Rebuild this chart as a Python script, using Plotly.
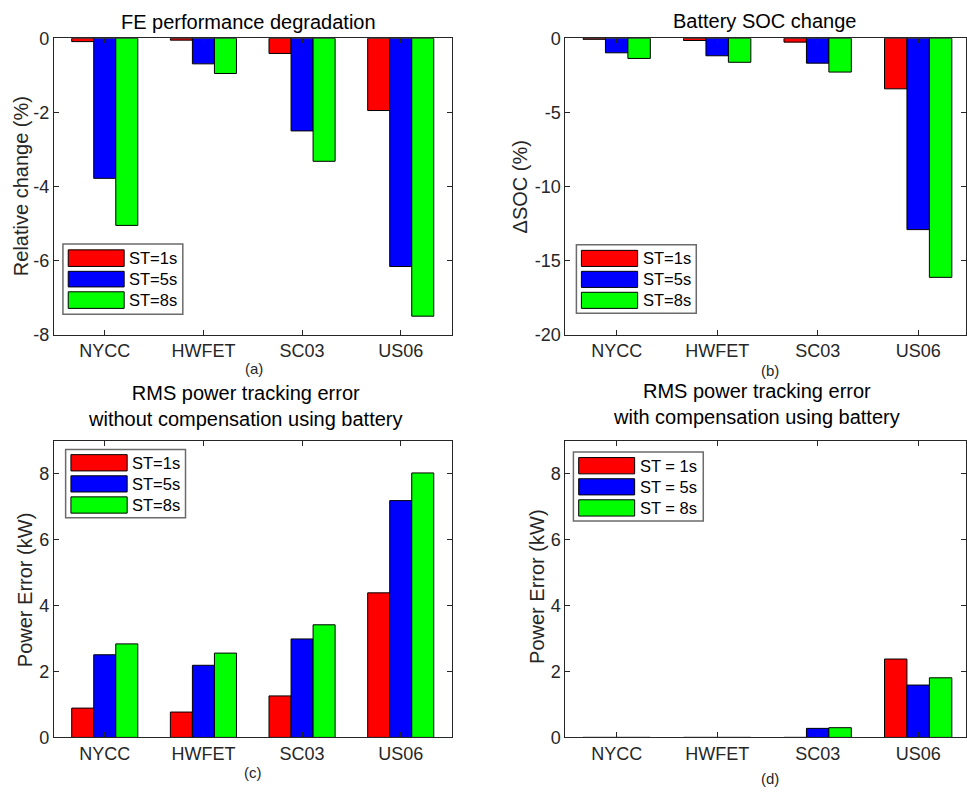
import plotly.graph_objects as go

# Drive cycles and sampling-time series
cycles = ["NYCC", "HWFET", "SC03", "US06"]
st_labels = ["ST=1s", "ST=5s", "ST=8s"]
st_labels_spaced = ["ST = 1s", "ST = 5s", "ST = 8s"]
colors = ["#FF0000", "#0000FF", "#00FF00"]

# (a) relative change of fuel economy (%)
fe_st1 = [-0.09, -0.05, -0.41, -1.95]
fe_st5 = [-3.78, -0.69, -2.50, -6.16]
fe_st8 = [-5.05, -0.95, -3.32, -7.50]

# (b) battery SOC change (%)
soc_st1 = [-0.07, -0.15, -0.26, -3.41]
soc_st5 = [-0.98, -1.18, -1.68, -12.91]
soc_st8 = [-1.36, -1.62, -2.28, -16.13]

# (c) RMS power tracking error without battery compensation (kW)
err_nocomp_st1 = [0.89, 0.77, 1.26, 4.39]
err_nocomp_st5 = [2.51, 2.19, 2.99, 7.19]
err_nocomp_st8 = [2.84, 2.56, 3.42, 8.03]

# (d) RMS power tracking error with battery compensation (kW)
err_comp_st1 = [0.0, 0.0, 0.0, 2.38]
err_comp_st5 = [0.0, 0.0, 0.275, 1.59]
err_comp_st8 = [0.0, 0.0, 0.295, 1.81]

# Y tick values per panel
ticks_fe = [0, -2, -4, -6, -8]
ticks_soc = [0, -5, -10, -15, -20]
ticks_err = [0, 2, 4, 6, 8]

W, H = 967, 803
FONT = "Liberation Sans, Arial, Helvetica, sans-serif"
AX = "#262626"


def px(x):
    return x / W


def py(y):
    return 1 - y / H


def tick_text(vals):
    # plain hyphen-minus for negative labels
    return [str(v) for v in vals]


fig = go.Figure()

panels = [
    ("x", "y", [fe_st1, fe_st5, fe_st8]),
    ("x2", "y2", [soc_st1, soc_st5, soc_st8]),
    ("x3", "y3", [err_nocomp_st1, err_nocomp_st5, err_nocomp_st8]),
    ("x4", "y4", [err_comp_st1, err_comp_st5, err_comp_st8]),
]
for xa, ya, series in panels:
    for vals, col in zip(series, colors):
        fig.add_trace(go.Bar(
            x=cycles, y=vals, xaxis=xa, yaxis=ya,
            marker=dict(color=col, line=dict(color="#000000", width=1)),
            showlegend=False,
        ))

left_dom = [px(54), px(452)]
right_dom = [px(566), 1.0]
top_dom = [py(333), py(29)]
bot_dom = [py(746), py(442)]

common_x = dict(
    type="category", showline=True, linecolor=AX, linewidth=1, mirror="ticks",
    ticks="inside", ticklen=5, tickcolor=AX, showgrid=False, zeroline=False,
    tickfont=dict(family=FONT, size=18, color=AX),
)
common_y = dict(
    showline=True, linecolor=AX, linewidth=1, mirror="ticks",
    ticks="inside", ticklen=5, tickcolor=AX, showgrid=False, zeroline=False,
    tickfont=dict(family=FONT, size=18, color=AX),
)

fig.update_layout(
    width=W, height=H,
    margin=dict(l=0, r=0, t=0, b=0),
    paper_bgcolor="white", plot_bgcolor="white",
    barmode="group", bargap=0.33, bargroupgap=0,
    showlegend=False,
    xaxis=dict(common_x, domain=left_dom, anchor="y", range=[-0.515, 3.515]),
    yaxis=dict(common_y, domain=top_dom, anchor="x", range=[-8, 0],
               tickvals=ticks_fe, ticktext=tick_text(ticks_fe)),
    xaxis2=dict(common_x, domain=right_dom, anchor="y2", range=[-0.51, 3.476]),
    yaxis2=dict(common_y, domain=top_dom, anchor="x2", range=[-20, 0],
                tickvals=ticks_soc, ticktext=tick_text(ticks_soc)),
    xaxis3=dict(common_x, domain=left_dom, anchor="y3", range=[-0.515, 3.515]),
    yaxis3=dict(common_y, domain=bot_dom, anchor="x3", range=[0, 9],
                tickvals=ticks_err, ticktext=tick_text(ticks_err)),
    xaxis4=dict(common_x, domain=right_dom, anchor="y4", range=[-0.51, 3.476]),
    yaxis4=dict(common_y, domain=bot_dom, anchor="x4", range=[0, 9],
                tickvals=ticks_err, ticktext=tick_text(ticks_err)),
)

annotations = []


def text(x, y, s, size, color="#000000", angle=0, xanchor="center"):
    annotations.append(dict(
        x=px(x), y=py(y), xref="paper", yref="paper", text=s, showarrow=False,
        xanchor=xanchor, yanchor="middle", textangle=angle,
        font=dict(family=FONT, size=size, color=color),
    ))


# Titles
text(248.5, 12, "FE performance degradation", 20)
text(765, 11.5, "Battery SOC change", 20)
text(246, 406.5, "RMS power tracking error<br>without compensation using battery", 20)
text(757, 404.5, "RMS power tracking error<br>with compensation using battery", 20)

# Y-axis labels
text(21.7, 181, "Relative change (%)", 20, AX, -90)
text(521, 181.5, "ΔSOC (%)", 20, AX, -90)
text(25, 595, "Power Error (kW)", 20, AX, -90)
text(537.5, 591.7, "Power Error (kW)", 20, AX, -90)

# Panel captions
text(254, 367.5, "(a)", 15, AX)
text(770.5, 370, "(b)", 15, AX)
text(253.3, 781.7, "(c)", 15, AX)
text(770.5, 788, "(d)", 15, AX)

shapes = []


def legend(box, sw_x, sw_rows, text_x, labels):
    x0, x1, y0, y1 = box
    shapes.append(dict(type="rect", xref="paper", yref="paper",
                       x0=px(x0), x1=px(x1), y0=py(y1), y1=py(y0),
                       fillcolor="white", line=dict(color="#6b6b6b", width=1.5)))
    for (r0, r1), col, lab in zip(sw_rows, colors, labels):
        shapes.append(dict(type="rect", xref="paper", yref="paper",
                           x0=px(sw_x[0]), x1=px(sw_x[1]), y0=py(r1), y1=py(r0),
                           fillcolor=col, line=dict(color="#000000", width=1)))
        text(text_x, (r0 + r1) / 2, lab, 16.5, "#000000", 0, "left")


legend((63, 183, 240, 312), (68.3, 124.3), [(246, 263), (268, 284), (289, 306)], 127, st_labels)
legend((577, 697, 240.7, 311), (582, 638.3), [(246.5, 263), (268, 284.5), (289.5, 306)], 641.5, st_labels)
legend((65.7, 185.7, 450.7, 520.7), (71, 127.3), [(456, 472.7), (477.7, 494.3), (499.3, 516)], 130, st_labels)
legend((574, 704, 453.3, 524), (579.3, 635.3), [(459, 475.7), (480.7, 497.3), (502.3, 519)], 639, st_labels_spaced)

fig.update_layout(annotations=annotations, shapes=shapes)

fig.write_html("out.html")
